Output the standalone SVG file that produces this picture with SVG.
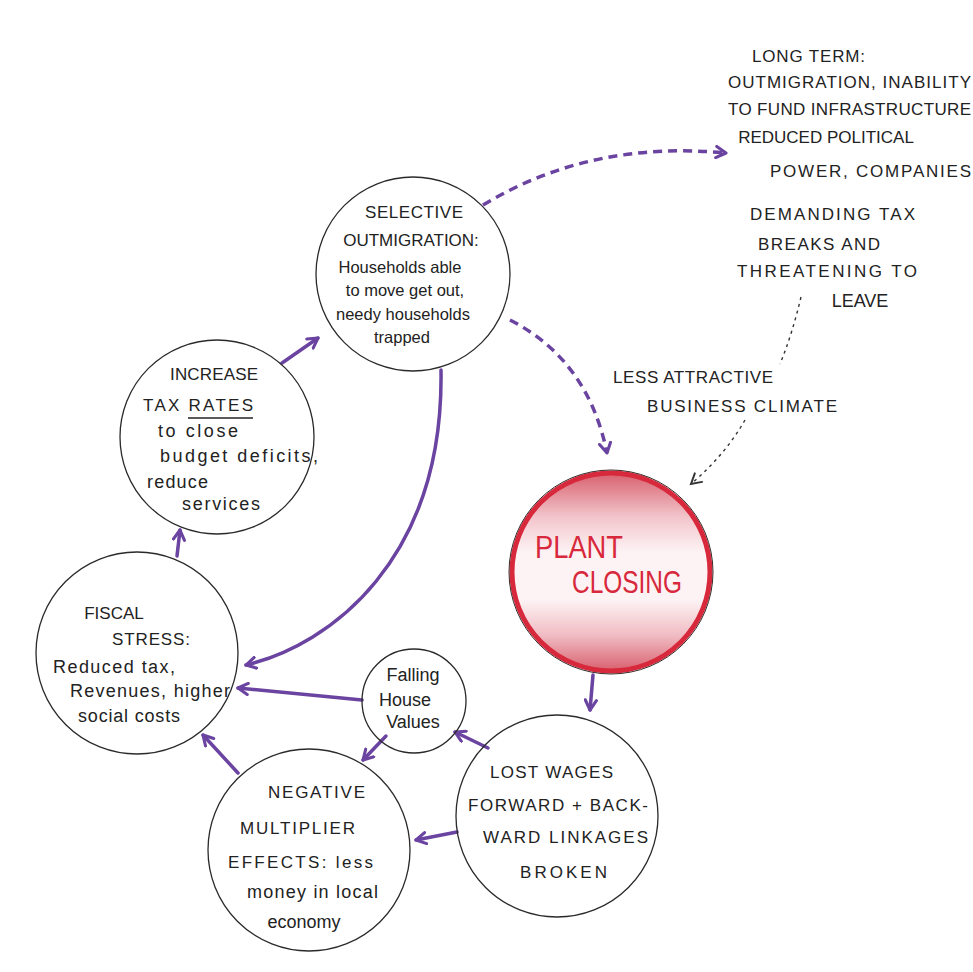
<svg xmlns="http://www.w3.org/2000/svg" width="973" height="972" viewBox="0 0 973 972">
<defs>
<style>
.node{fill:none;stroke:#2a2a2a;stroke-width:1.3}
text{font-family:"Liberation Sans",Arial,sans-serif;fill:#222}
.t{font-size:17px}
.c{font-size:18px}
.s{font-size:17px}
.sm{font-size:16.5px}
.m{text-anchor:middle}
.p{fill:none;stroke:#6a44a0;stroke-width:3.5;stroke-linecap:round}
.pd{fill:none;stroke:#6a44a0;stroke-width:3.5;stroke-dasharray:9 6}
.bd{fill:none;stroke:#333;stroke-width:1.4;stroke-dasharray:3 4}
.red{font-size:31px;fill:#d8283c}
</style>
<marker id="ap" viewBox="0 0 10 10" refX="8" refY="5" markerWidth="4" markerHeight="4" orient="auto" markerUnits="strokeWidth">
<path d="M1,1 L8,5 L1,9" fill="none" stroke="#6a44a0" stroke-width="2.2" stroke-linecap="round" stroke-linejoin="round"/>
</marker>
<marker id="ab" viewBox="0 0 10 10" refX="8" refY="5" markerWidth="10" markerHeight="10" orient="auto" markerUnits="strokeWidth">
<path d="M1,1 L8,5 L1,9" fill="none" stroke="#333" stroke-width="1.4" stroke-linecap="round"/>
</marker>
<linearGradient id="rg" x1="0" y1="0" x2="0" y2="1">
<stop offset="0" stop-color="#d8606e"/>
<stop offset="0.22" stop-color="#f2c4ca"/>
<stop offset="0.4" stop-color="#fdf3f4"/>
<stop offset="0.64" stop-color="#fdf3f4"/>
<stop offset="0.82" stop-color="#f0bcc3"/>
<stop offset="1" stop-color="#d8606e"/>
</linearGradient>
</defs>
<rect width="973" height="972" fill="#ffffff"/>

<g id="connectors">
<path class="pd" d="M483,205 Q590,140 726,153" marker-end="url(#ap)"/>
<path class="pd" d="M510,320 Q588,360 607,453" marker-end="url(#ap)"/>
<path class="bd" d="M801,297 Q792,335 780,364"/>
<path class="bd" d="M745,420 Q725,455 691,484" marker-end="url(#ab)"/>
<path class="p" d="M593,675 L590,710" marker-end="url(#ap)"/>
<path class="p" d="M488,748 L455,732" marker-end="url(#ap)"/>
<path class="p" d="M457,832 L416,840" marker-end="url(#ap)"/>
<path class="p" d="M386,736 L363,760" marker-end="url(#ap)"/>
<path class="p" d="M362,700 L238,688" marker-end="url(#ap)"/>
<path class="p" d="M238,773 L203,735" marker-end="url(#ap)"/>
<path class="p" d="M177,556 L180,530" marker-end="url(#ap)"/>
<path class="p" d="M282,363 L318,338" marker-end="url(#ap)"/>
<path class="p" d="M441,370 C444,560 330,645 246,665" marker-end="url(#ap)"/>
</g>

<g id="long-term">
<text class="s" x="752" y="62" textLength="113" lengthAdjust="spacing">LONG TERM:</text>
<text class="s" x="728" y="88" textLength="243" lengthAdjust="spacing">OUTMIGRATION, INABILITY</text>
<text class="s" x="728" y="115" textLength="243" lengthAdjust="spacing">TO FUND INFRASTRUCTURE</text>
<text class="s m" x="826" y="143">REDUCED POLITICAL</text>
<text class="s" x="770" y="177" textLength="201" lengthAdjust="spacing">POWER, COMPANIES</text>
<text class="s" x="750" y="220" textLength="165" lengthAdjust="spacing">DEMANDING TAX</text>
<text class="s" x="758" y="250" textLength="122" lengthAdjust="spacing">BREAKS AND</text>
<text class="s" x="737" y="277" textLength="180" lengthAdjust="spacing">THREATENING TO</text>
<text class="c m" x="860" y="307">LEAVE</text>
</g>

<g id="label-climate">
<text class="s" x="613" y="383" textLength="160" lengthAdjust="spacing">LESS ATTRACTIVE</text>
<text class="s" x="647" y="412" textLength="190" lengthAdjust="spacing">BUSINESS CLIMATE</text>
</g>

<g id="selective">
<circle class="node" cx="413" cy="274" r="97"/>
<text class="t" x="365" y="218" textLength="98" lengthAdjust="spacing">SELECTIVE</text>
<text class="t m" x="411" y="246">OUTMIGRATION:</text>
<text class="sm m" x="400" y="273">Households able</text>
<text class="sm m" x="405" y="296">to move get out,</text>
<text class="sm m" x="403" y="320">needy households</text>
<text class="sm m" x="402" y="343">trapped</text>
</g>

<g id="increase-tax">
<circle class="node" cx="217" cy="437" r="97"/>
<text class="t" x="170" y="380" textLength="88" lengthAdjust="spacing">INCREASE</text>
<text class="t" x="143" y="411" textLength="110" lengthAdjust="spacing">TAX RATES</text>
<line x1="188" y1="418" x2="253" y2="418" stroke="#222" stroke-width="1.3"/>
<text class="c" x="158" y="437" textLength="80" lengthAdjust="spacing">to close</text>
<text class="c" x="160" y="462" textLength="158" lengthAdjust="spacing">budget deficits,</text>
<text class="c" x="147" y="488" textLength="61" lengthAdjust="spacing">reduce</text>
<text class="c" x="182" y="510" textLength="78" lengthAdjust="spacing">services</text>
</g>

<g id="fiscal-stress">
<circle class="node" cx="137" cy="653" r="101"/>
<text class="t m" x="114" y="619">FISCAL</text>
<text class="t" x="112" y="645" textLength="78" lengthAdjust="spacing">STRESS:</text>
<text class="c" x="53" y="673" textLength="122" lengthAdjust="spacing">Reduced tax,</text>
<text class="c" x="70" y="697" textLength="160" lengthAdjust="spacing">Revenues, higher</text>
<text class="c" x="78" y="722" textLength="102" lengthAdjust="spacing">social costs</text>
</g>

<g id="falling-house">
<circle class="node" cx="414" cy="701" r="52"/>
<text class="c m" x="413" y="681">Falling</text>
<text class="c m" x="405" y="706">House</text>
<text class="c m" x="413" y="728">Values</text>
</g>

<g id="negative-multiplier">
<circle class="node" cx="309" cy="850" r="101"/>
<text class="t" x="268" y="798" textLength="97" lengthAdjust="spacing">NEGATIVE</text>
<text class="t" x="240" y="834" textLength="115" lengthAdjust="spacing">MULTIPLIER</text>
<text class="t" x="228" y="868" textLength="145" lengthAdjust="spacing">EFFECTS: less</text>
<text class="c" x="247" y="898" textLength="131" lengthAdjust="spacing">money in local</text>
<text class="c m" x="304" y="928">economy</text>
</g>

<g id="lost-wages">
<circle class="node" cx="557" cy="816" r="101"/>
<text class="t" x="490" y="778" textLength="123" lengthAdjust="spacing">LOST WAGES</text>
<text class="t" x="468" y="811" textLength="180" lengthAdjust="spacing">FORWARD + BACK-</text>
<text class="t" x="483" y="843" textLength="165" lengthAdjust="spacing">WARD LINKAGES</text>
<text class="t" x="520" y="878" textLength="87" lengthAdjust="spacing">BROKEN</text>
</g>

<g id="plant-closing">
<circle cx="611" cy="572" r="99" fill="url(#rg)" stroke="#d8283c" stroke-width="5"/>
<circle cx="611" cy="572" r="102" fill="none" stroke="#3a2a2a" stroke-width="1"/>
<text class="red" x="535" y="558" textLength="88" lengthAdjust="spacingAndGlyphs">PLANT</text>
<text class="red" x="572" y="593" textLength="110" lengthAdjust="spacingAndGlyphs">CLOSING</text>
</g>
</svg>
